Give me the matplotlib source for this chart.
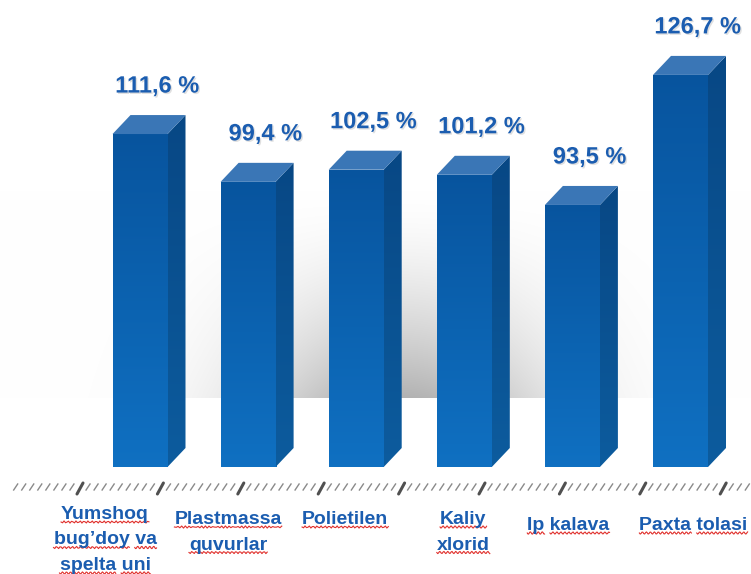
import matplotlib
matplotlib.use("Agg")
import matplotlib.pyplot as plt
import matplotlib.patheffects as pe
from matplotlib.patches import Polygon, Rectangle
import numpy as np

categories = ["Yumshoq\nbug\u2019doy va\nspelta uni", "Plastmassa\nquvurlar", "Polietilen",
              "Kaliy\nxlorid", "Ip kalava", "Paxta tolasi"]
values = [111.6, 99.4, 102.5, 101.2, 93.5, 126.7]
value_labels = ["111,6 %", "99,4 %", "102,5 %", "101,2 %", "93,5 %", "126,7 %"]

# layout (pixels of the 751x574 picture)
W, H = 751, 574
base = 26.6
px_unit = 3.917
x0_px, step_px, base_px = 140.0, 108.1, 467.0
label_shift = [-35, -20, -11, -1, -4, 13]
label_top = [512, 517, 517, 517, 523, 523]

font = dict(family="Liberation Sans")
blue_txt = "#1b5db0"

fig = plt.figure(figsize=(W / 100, H / 100), dpi=100)
bg = fig.add_axes([0, 0, 1, 1], zorder=0)
bg.set_xlim(0, W)
bg.set_ylim(H, 0)
bg.axis("off")

# soft grey backdrop behind the bars
yy, xx = np.mgrid[0:H, 0:W]
gy = np.clip((yy - 190) / (397 - 190), 0, 1) ** 1.6
gy[yy > 397] = 0
gx = np.exp(-((xx - 400) / 150.0) ** 2)
shade = 1 - 0.30 * gx * gy
bg.imshow(np.dstack([shade] * 3), extent=(0, W, H, 0), aspect="auto", zorder=0)

# hatched ground line
for k in range(-8, 92):
    x = 80 + k * 8.04
    if x < 10 or x > 750:
        continue
    if k % 10 == 0:
        bg.plot([x - 3, x + 3], [494, 483], color="#505050", lw=2.2, solid_capstyle="round")
    else:
        bg.plot([x - 2, x + 2], [490, 484], color="#8a8a8a", lw=1.0)

ax = fig.add_axes([0, 0, 1, 1], zorder=1)
ax.patch.set_visible(False)
ax.set_xlim(-x0_px / step_px, (W - x0_px) / step_px)
ax.set_ylim(base - (H - base_px) / px_unit, base + base_px / px_unit)
ax.axis("off")

w = 55 / step_px
dx = 18 / step_px
dy = 19 / px_unit
grad = np.linspace(0, 1, 256)[:, None]
front_top = np.array([0.03, 0.33, 0.62])
front_bot = np.array([0.06, 0.44, 0.76])
front_img = front_top + (front_bot - front_top) * grad[..., None]
side_top = np.array([0.03, 0.28, 0.52])
side_bot = np.array([0.05, 0.36, 0.62])
side_img = side_top + (side_bot - side_top) * grad[..., None]

shadow = [pe.withSimplePatchShadow(offset=(1, -1), shadow_rgbFace="#9a9a9a", alpha=0.3)]

for i, v in enumerate(values):
    xl, xr = i - w / 2, i + w / 2
    front = Rectangle((xl, base), w, v - base, facecolor="none", edgecolor="none")
    ax.add_patch(front)
    im = ax.imshow(front_img, extent=(xl, xr, base, v), aspect="auto", zorder=2)
    im.set_clip_path(front)
    side = Polygon([(xr, base), (xr + dx, base + dy), (xr + dx, v + dy), (xr, v)],
                   closed=True, facecolor="none", edgecolor="none")
    ax.add_patch(side)
    im2 = ax.imshow(side_img, extent=(xr, xr + dx, base, v + dy), aspect="auto", zorder=2)
    im2.set_clip_path(side)
    ax.add_patch(Polygon([(xl, v), (xr, v), (xr + dx, v + dy), (xl + dx, v + dy)],
                         closed=True, facecolor="#3a76b6", edgecolor="none", zorder=3))
    ax.text(i + 0.16, v + 48 / px_unit, value_labels[i], ha="center", va="center",
            fontsize=17, fontweight="bold", color=blue_txt, path_effects=shadow, **font)

# category labels with the red wavy spell-check underline
fig.canvas.draw()
renderer = fig.canvas.get_renderer()
for i, lab in enumerate(categories):
    cx = x0_px + step_px * i + label_shift[i]
    for j, line in enumerate(lab.split("\n")):
        yb = label_top[i] + 7 + j * 25.5
        t = bg.text(cx, yb, line, ha="center", va="baseline", fontsize=14,
                    fontweight="bold", color=blue_txt, zorder=3, **font)
        prop = t.get_fontproperties()
        full, _, _ = renderer.get_text_width_height_descent(line, prop, ismath=False)
        left = cx - full / 2
        pos = 0
        for word in line.split(" "):
            end_idx = line.index(word, pos) + len(word)
            pos = end_idx
            e, _, _ = renderer.get_text_width_height_descent(line[:end_idx], prop, ismath=False)
            ww, _, _ = renderer.get_text_width_height_descent(word, prop, ismath=False)
            xs = np.linspace(left + e - ww, left + e, 60)
            ys = yb + 3 + 1.1 * np.sin(2 * np.pi * (xs - xs[0]) / 4.0)
            bg.plot(xs, ys, color="#e0302c", lw=0.8, zorder=2)

fig.savefig("out.png", dpi=100)
